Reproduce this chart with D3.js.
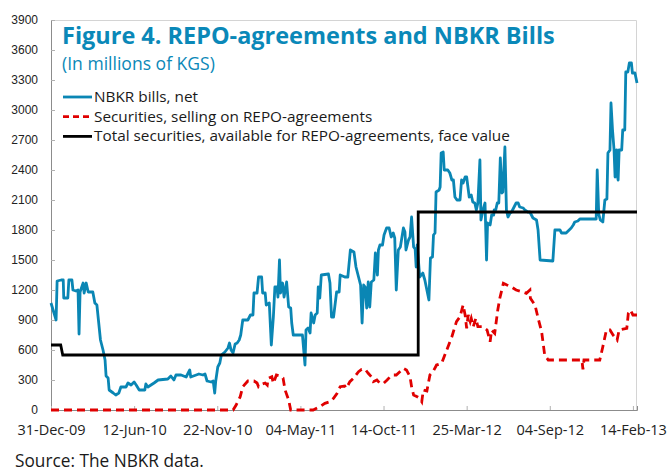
<!DOCTYPE html>
<html>
<head>
<meta charset="utf-8">
<script src="https://cdn.jsdelivr.net/npm/d3@7"></script>
<style>
  body { margin: 0; background: #fff; }
  text { font-family: "Open Sans", "Noto Sans", sans-serif; }
</style>
</head>
<body>
<div id="chart"></div>
<script>
// dates are stored as days after 31-Dec-09
const startDate = new Date(2009, 11, 31);
const endDay = 1149;

const tickLabels = ["31-Dec-09", "12-Jun-10", "22-Nov-10", "04-May-11", "14-Oct-11", "25-Mar-12", "04-Sep-12", "14-Feb-13"];
const yTicks = [0, 300, 600, 900, 1200, 1500, 1800, 2100, 2400, 2700, 3000, 3300, 3600, 3900];

const seriesNames = ["NBKR bills, net", "Securities, selling on REPO-agreements", "Total securities, available for REPO-agreements, face value"];

// NBKR bills, net
const billsDays = [
  0, 10, 12, 20, 24, 25, 33, 35, 41, 43,
  49, 53, 55, 57, 63, 65, 69, 73, 82, 86,
  90, 93, 97, 102, 106, 108, 112, 114, 122, 127,
  133, 137, 147, 151, 157, 163, 167, 173, 184, 186,
  190, 196, 202, 210, 229, 235, 241, 245, 255, 265,
  272, 274, 290, 298, 302, 306, 314, 318, 321, 323,
  327, 331, 334, 341, 347, 350, 353, 357, 361, 365,
  369, 372, 376, 386, 391, 396, 398, 404, 407, 413,
  415, 420, 422, 428, 432, 436, 439, 443, 445, 448,
  450, 454, 457, 462, 466, 470, 472, 475, 493, 498,
  500, 504, 508, 510, 515, 518, 522, 524, 527, 530,
  544, 547, 550, 554, 560, 565, 567, 576, 582, 587,
  594, 598, 603, 607, 610, 613, 616, 619, 622, 625,
  628, 633, 636, 640, 642, 645, 650, 653, 658, 663,
  667, 671, 674, 677, 681, 685, 691, 694, 696, 701,
  704, 707, 711, 714, 716, 718, 723, 729, 733, 741,
  744, 748, 750, 753, 755, 761, 763, 765, 769, 771,
  778, 782, 786, 789, 792, 796, 802, 805, 808, 812,
  815, 820, 824, 827, 831, 834, 837, 841, 843, 847,
  851, 854, 856, 861, 864, 868, 869, 872, 875, 878,
  881, 884, 886, 890, 893, 896, 900, 903, 908, 912,
  916, 919, 926, 929, 935, 939, 945, 952, 955, 959,
  984, 988, 998, 1001, 1010, 1016, 1020, 1024, 1027, 1033,
  1037, 1069, 1071, 1074, 1077, 1082, 1086, 1090, 1092, 1096,
  1098, 1101, 1104, 1106, 1109, 1111, 1112, 1114, 1119, 1121,
  1125, 1127, 1131, 1134, 1138, 1140, 1145, 1149
];
const billsValues = [
  1070, 900, 1290, 1300, 1300, 1120, 1120, 1300, 1300, 1200,
  1190, 1200, 760, 1180, 1270, 1170, 1270, 1180, 1180, 1070,
  1050, 900, 700, 600, 500, 340, 320, 200, 170, 150,
  170, 230, 230, 270, 250, 280, 250, 200, 200, 260,
  230, 250, 270, 300, 310, 340, 300, 350, 350, 330,
  400, 330, 360, 350, 360, 290, 280, 290, 170, 290,
  430, 470, 550, 580, 620, 670, 600, 570, 660, 670,
  700, 750, 900, 900, 950, 950, 1170, 1170, 1330, 1330,
  1170, 1170, 1050, 1070, 650, 930, 1230, 1230, 1130, 1500,
  1170, 1270, 1130, 1280, 1030, 1020, 870, 750, 750, 450,
  800, 820, 770, 970, 870, 950, 970, 1230, 1120, 1350,
  1360, 1270, 930, 930, 1180, 1180, 1350, 1330, 1330, 1600,
  1580, 1430, 1330, 1250, 870, 1250, 1230, 1020, 1280, 1030,
  1280, 1300, 1570, 1350, 1600, 1650, 1650, 1750, 1820, 1820,
  1730, 1770, 1720, 1200, 1600, 1630, 1820, 1780, 1600, 1700,
  1730, 1930, 1630, 1610, 1430, 1650, 1330, 1370, 1300, 1100,
  1520, 1530, 1750, 1770, 2180, 2200, 2230, 2570, 2580, 2400,
  2400, 2370, 2300, 2300, 2130, 2100, 2100, 2300, 2270, 2330,
  2330, 2130, 2150, 2080, 2070, 2000, 2070, 2500, 1900, 2000,
  2070, 1500, 1870, 1850, 1950, 1950, 2000, 2000, 2070, 2070,
  2520, 2170, 2180, 2630, 2000, 1930, 1970, 1980, 2030, 2070,
  2070, 2030, 2020, 2000, 1980, 1980, 1920, 1900, 1800, 1500,
  1490, 1800, 1800, 1770, 1770, 1800, 1820, 1850, 1880, 1890,
  1910, 1910, 2400, 1960, 1900, 1880, 2100, 2110, 2570, 2600,
  3070, 2800, 2600, 2330, 2600, 2330, 2300, 2600, 2600, 2800,
  2800, 3380, 3380, 3470, 3470, 3370, 3370, 3270
];

// Securities, selling on REPO-agreements
const repoDays = [
  0, 357, 363, 371, 376, 386, 398, 404, 407, 414,
  420, 424, 426, 433, 436, 442, 449, 455, 459, 466,
  470, 514, 527, 537, 547, 554, 561, 567, 576, 579,
  586, 593, 603, 609, 616, 622, 628, 632, 639, 645,
  652, 659, 665, 671, 677, 684, 691, 697, 704, 707,
  711, 718, 723, 727, 730, 737, 743, 749, 756, 766,
  776, 786, 795, 802, 808, 812, 815, 818, 822, 824,
  828, 833, 837, 847, 855, 861, 864, 870, 876, 880,
  887, 894, 902, 912, 923, 932, 939, 940, 949, 955,
  962, 968, 975, 1041, 1043, 1045, 1076, 1082, 1089, 1096,
  1102, 1110, 1114, 1129, 1132, 1136, 1141, 1149
];
const repoValues = [
  0, 0, 50, 133, 233, 290, 290, 270, 233, 260,
  270, 250, 317, 333, 267, 350, 340, 320, 200, 100,
  0, 0, 33, 67, 83, 117, 167, 233, 240, 217,
  283, 317, 383, 407, 407, 367, 333, 283, 300, 267,
  267, 300, 333, 350, 350, 383, 417, 400, 333, 233,
  150, 133, 117, 83, 200, 190, 350, 383, 450, 467,
  600, 733, 883, 933, 1050, 950, 817, 950, 883, 917,
  833, 917, 833, 833, 800, 683, 800, 767, 1000, 1117,
  1267, 1250, 1233, 1200, 1183, 1167, 1200, 1117, 1050, 920,
  783, 550, 500, 500, 407, 500, 500, 633, 800, 800,
  750, 700, 800, 817, 967, 1000, 950, 950
];

// Total securities, available for REPO-agreements, face value
const totalDays = [0, 19, 23, 720, 720, 1149];
const totalValues = [650, 650, 550, 550, 1980, 1980];

const colors = ["#0a86b4", "#e00000", "#000000"];

const margin = {top: 20, right: 34, bottom: 61, left: 51},
    width = 671 - margin.left - margin.right,
    height = 471 - margin.top - margin.bottom;

const svg = d3.select("#chart")
  .append("svg")
    .attr("width", 671)
    .attr("height", 471);

const g = svg.append("g")
    .attr("transform", "translate(" + margin.left + "," + margin.top + ")");

const toDate = function (d) { return d3.timeDay.offset(startDate, d); };
const parseTick = d3.timeParse("%d-%b-%y");

const x = d3.scaleTime()
  .domain([startDate, toDate(endDay)])
  .range([0, width]);
const y = d3.scaleLinear()
  .domain([0, 3900])
  .range([height, 0]);

// light frame on top and right
g.append("path")
  .attr("d", "M0,0.5H" + (width - 0.5) + "V" + height)
  .attr("fill", "none")
  .attr("stroke", "#d4d4d4");

// y axis
const yAxis = g.append("g")
  .call(d3.axisLeft(y).tickValues(yTicks).tickSize(-4).tickPadding(13).tickFormat(d3.format("d")));
yAxis.select(".domain").attr("stroke", "#8c8c8c");
yAxis.selectAll(".tick line").attr("stroke", "#b0b0b0");
yAxis.selectAll("text")
  .style("font-family", "'Liberation Sans', Arial, sans-serif")
  .style("font-size", "12px")
  .attr("fill", "#222");

// x axis
const xAxis = g.append("g")
  .attr("transform", "translate(0," + height + ")")
  .call(d3.axisBottom(x)
    .tickValues(tickLabels.map(parseTick))
    .tickFormat(d3.timeFormat("%d-%b-%y"))
    .tickSize(-4).tickPadding(15));
xAxis.select(".domain").attr("stroke", "#8c8c8c");
xAxis.selectAll(".tick line").attr("stroke", "#b0b0b0");
xAxis.selectAll("text")
  .style("font-size", "14.5px")
  .attr("fill", "#222");

const line = d3.line()
  .x(function (d) { return x(toDate(d[0])); })
  .y(function (d) { return y(d[1]); });

const series = [
  d3.zip(billsDays, billsValues),
  d3.zip(repoDays, repoValues),
  d3.zip(totalDays, totalValues)
];

g.append("path")
  .datum(series[0])
  .attr("fill", "none")
  .attr("stroke", colors[0])
  .attr("stroke-width", 2.8)
  .attr("stroke-linejoin", "round")
  .attr("d", line);

g.append("path")
  .datum(series[1])
  .attr("fill", "none")
  .attr("stroke", colors[1])
  .attr("stroke-width", 2.8)
  .attr("stroke-dasharray", "8,5")
  .attr("d", line);

g.append("path")
  .datum(series[2])
  .attr("fill", "none")
  .attr("stroke", colors[2])
  .attr("stroke-width", 2.8)
  .attr("d", line);

// scale a text so it takes the same width as in the figure
function fitWidth(sel, w) {
  const len = sel.node().getComputedTextLength();
  const fs = parseFloat(sel.style("font-size"));
  sel.style("font-size", (fs * w / len) + "px");
}

// title
const title = svg.append("text")
  .attr("x", 62)
  .attr("y", 44)
  .attr("fill", "#0a88b8")
  .style("font-weight", "bold")
  .style("font-size", "24px")
  .text("Figure 4. REPO-agreements and NBKR Bills");
fitWidth(title, 493);

const subtitle = svg.append("text")
  .attr("x", 62)
  .attr("y", 69.5)
  .attr("fill", "#0a88b8")
  .style("font-size", "16px")
  .text("(In millions of KGS)");
fitWidth(subtitle, 153);

// legend
const legend = svg.append("g")
  .selectAll("g")
  .data(seriesNames)
  .enter()
  .append("g")
    .attr("transform", function (d, i) { return "translate(63," + (97 + i * 19.7) + ")"; });

legend.append("line")
  .attr("x1", 0)
  .attr("x2", 29)
  .attr("stroke", function (d, i) { return colors[i]; })
  .attr("stroke-width", 2.8)
  .attr("stroke-dasharray", function (d, i) { return i === 1 ? "6,4" : null; });

const legendText = legend.append("text")
  .attr("x", 31)
  .attr("y", 5)
  .attr("fill", "#1a1a1a")
  .style("font-size", "15px")
  .text(function (d) { return d; });
const longest = d3.select(legendText.nodes()[2]);
fitWidth(longest, 416);
legendText.style("font-size", longest.style("font-size"));

const source = svg.append("text")
  .attr("x", 15)
  .attr("y", 467)
  .attr("fill", "#1a1a1a")
  .style("font-size", "15px")
  .text("Source: The NBKR data.");
fitWidth(source, 189);
</script>
</body>
</html>
